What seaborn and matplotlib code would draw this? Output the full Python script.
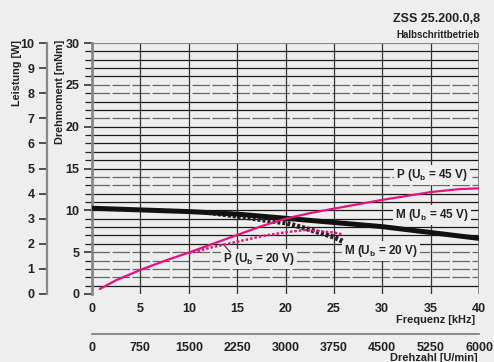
import matplotlib
matplotlib.use("Agg")
import matplotlib.pyplot as plt
import seaborn as sns
import pandas as pd

# ---- data ----
freq_m45 = [0, 5, 10, 15, 20, 25, 30, 35, 40]
torque_m45 = [10.25, 10.05, 9.85, 9.55, 9.05, 8.55, 8.05, 7.35, 6.65]
freq_m20 = [12, 15, 18, 20, 22.5, 25, 26]
torque_m20 = [9.75, 9.3, 8.8, 8.5, 7.7, 6.8, 6.25]
freq_p45 = [0.8, 2.5, 5, 7.5, 10, 12.5, 15, 17.5, 20, 22.5, 25, 30, 35, 38, 40]
power_p45 = [0.2, 0.55, 0.96, 1.32, 1.65, 2.0, 2.35, 2.7, 3.0, 3.22, 3.4, 3.75, 4.06, 4.18, 4.21]
freq_p20 = [10, 12.5, 15, 17.5, 20, 22, 25, 26]
power_p20 = [1.62, 1.87, 2.08, 2.3, 2.46, 2.55, 2.45, 2.36]

freq_ticks = [0, 5, 10, 15, 20, 25, 30, 35, 40]
rpm_ticks = [0, 750, 1500, 2250, 3000, 3750, 4500, 5250, 6000]
torque_ticks = [0, 5, 10, 15, 20, 25, 30]
power_ticks = [0, 1, 2, 3, 4, 5, 6, 7, 8, 9, 10]

title = "ZSS 25.200.0,8"
subtitle = "Halbschrittbetrieb"

sns.set_theme(style="white")
BG = "#eeeeee"
MAG = "#e5127f"
TXT = "#222222"
plt.rcParams["font.family"] = ["Liberation Sans", "DejaVu Sans"]
plt.rcParams["mathtext.fontset"] = "custom"
plt.rcParams["mathtext.rm"] = "Liberation Sans:bold"
plt.rcParams["mathtext.bf"] = "Liberation Sans:bold"

W, H = 494, 362
fig = plt.figure(figsize=(W / 100, H / 100), dpi=100, facecolor=BG)

def px(x0, y0, x1, y1):
    return [x0 / W, 1 - y1 / H, (x1 - x0) / W, (y1 - y0) / H]

ax = fig.add_axes(px(92, 43, 479, 294))
ax.set_facecolor(BG)
ax.set_xlim(0, 40)
ax.set_ylim(0, 30)

# grid lines
dashed = {25, 24, 21, 14, 13, 5, 4, 3, 2}
for v in range(1, 30):
    if v in dashed:
        ax.axhline(v, color="#666666", lw=0.9, ls=(0, (14, 2)), zorder=1)
    else:
        ax.axhline(v, color="#1a1a1a", lw=0.9, zorder=1)
for v in [5, 10, 15, 20, 25, 30, 35]:
    ax.axvline(v, color="#333333", lw=0.9, zorder=1)
ax.axvline(40, color="#777777", lw=1.2, zorder=1)

for s in ["top", "right", "bottom"]:
    ax.spines[s].set_visible(False)
ax.spines["left"].set_color("#888888")
ax.spines["left"].set_linewidth(2)
ax.spines["left"].set_bounds(0, 30)
ax.axhline(30, color="#888888", lw=1.6, zorder=1)

df_m45 = pd.DataFrame({"f": freq_m45, "v": torque_m45})
df_m20 = pd.DataFrame({"f": freq_m20, "v": torque_m20})
sns.lineplot(data=df_m45, x="f", y="v", ax=ax, color="#111111", lw=3.6, zorder=5)
sns.lineplot(data=df_m20, x="f", y="v", ax=ax, color="#222222", lw=3.6,
             ls=(0, (0.6, 0.4)), zorder=4)

ax.set_xticks(freq_ticks)
ax.set_xticks(range(0, 41), minor=True)
ax.set_xticklabels([str(t) for t in freq_ticks], fontsize=9, fontweight="bold", color=TXT)
ax.set_yticks(torque_ticks)
ax.set_yticks(range(0, 31), minor=True)
ax.set_yticklabels([str(t) for t in torque_ticks], fontsize=9, fontweight="bold", color=TXT)
ax.tick_params(axis="x", which="both", direction="out", length=5, width=1, color="#777777")
ax.tick_params(axis="x", which="major", pad=1.8)
ax.tick_params(axis="y", which="major", direction="out", length=6, width=1.2, color="#333333", pad=3)
ax.tick_params(axis="y", which="minor", direction="out", length=5, width=0.9, color="#222222")
ax.set_xlabel("")
ax.set_ylabel("")

# power axis
ax2 = ax.twinx()
ax2.set_ylim(0, 10)
ax2.patch.set_visible(False)
for s in ["top", "right", "bottom"]:
    ax2.spines[s].set_visible(False)
ax2.spines["left"].set_visible(True)
ax2.spines["left"].set_position(("axes", -45 / 387))
ax2.spines["left"].set_color("#888888")
ax2.spines["left"].set_linewidth(1.6)
ax2.yaxis.set_ticks_position("left")
ax2.yaxis.set_label_position("left")
ax2.set_yticks(power_ticks)
ax2.set_yticklabels([str(t) for t in power_ticks], fontsize=9, fontweight="bold", color=TXT)
ax2.tick_params(axis="y", direction="out", length=6, width=1.2, color="#333333", pad=3)

df_p45 = pd.DataFrame({"f": freq_p45, "v": power_p45})
df_p20 = pd.DataFrame({"f": freq_p20, "v": power_p20})
sns.lineplot(data=df_p45, x="f", y="v", ax=ax2, color=MAG, lw=1.6, zorder=6)
sns.lineplot(data=df_p20, x="f", y="v", ax=ax2, color=MAG, lw=1.8,
             ls=(0, (1, 0.8)), zorder=6)
ax2.set_xlabel("")
ax2.set_ylabel("")
ax2.set_xlim(0, 40)

# curve labels
box = dict(facecolor=BG, edgecolor="none", pad=1.5)
lab_kw = dict(fontsize=8.5, fontweight="bold", color=TXT, ha="center", va="center",
              bbox=box, zorder=7)
ax.text(35.1, 14.2, r"P (U$_{\mathrm{b}}$ = 45 V)", **lab_kw)
ax.text(35.1, 9.44, r"M (U$_{\mathrm{b}}$ = 45 V)", **lab_kw)
ax.text(17.3, 4.2, r"P (U$_{\mathrm{b}}$ = 20 V)", **lab_kw)
ax.text(29.9, 5.14, r"M (U$_{\mathrm{b}}$ = 20 V)", **lab_kw)
ax.plot([13.6, 14.3], [5.9, 5.0], color="#333333", lw=0.8, zorder=7)

# rpm axis
ax3 = fig.add_axes(px(92, 333, 479, 334))
ax3.patch.set_visible(False)
ax3.set_xlim(0, 6000)
for s in ["top", "right", "left"]:
    ax3.spines[s].set_visible(False)
ax3.spines["bottom"].set_color("#777777")
ax3.spines["bottom"].set_linewidth(1.2)
ax3.set_yticks([])
ax3.set_xticks(rpm_ticks)
ax3.set_xticklabels([str(t) for t in rpm_ticks], fontsize=9, fontweight="bold", color=TXT)
ax3.tick_params(axis="x", direction="out", length=3, color="#777777", pad=3)

# axis titles
fig.text(475 / W, 1 - 320 / H, "Frequenz [kHz]", fontsize=7.9, fontweight="bold",
         color=TXT, ha="right", va="center")
fig.text(478 / W, 1 - 358 / H, "Drehzahl [U/min]", fontsize=7.9, fontweight="bold",
         color=TXT, ha="right", va="center")
fig.text(17 / W, 1 - 40 / H, "Leistung [W]", fontsize=7.8, fontweight="bold",
         color=TXT, ha="center", va="top", rotation=90)
fig.text(60 / W, 1 - 40 / H, "Drehmoment [mNm]", fontsize=7.8, fontweight="bold",
         color=TXT, ha="center", va="top", rotation=90)
fig.text(480 / W, 1 - 19 / H, title, fontsize=9, fontweight="bold",
         color=TXT, ha="right", va="center")
fig.text(480 / W, 1 - 35 / H, subtitle, fontsize=7, fontweight="bold",
         color=TXT, ha="right", va="center")

fig.savefig("out.png", dpi=100, facecolor=BG)
